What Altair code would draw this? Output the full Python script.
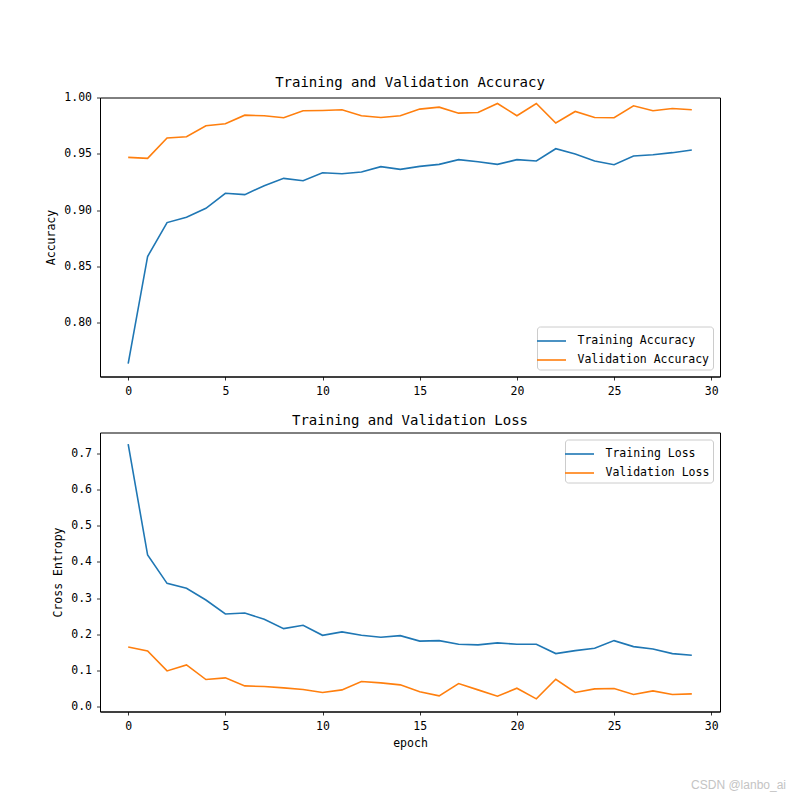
import altair as alt
import pandas as pd

epochs = list(range(30))

train_acc = [0.7637, 0.8588, 0.8889, 0.8936, 0.9016, 0.9149, 0.9137, 0.9217, 0.9282, 0.9261,
             0.9332, 0.9323, 0.9338, 0.9386, 0.9362, 0.9388, 0.9406, 0.9448, 0.9430, 0.9406,
             0.9448, 0.9436, 0.9545, 0.9498, 0.9436, 0.9403, 0.9480, 0.9492, 0.9510, 0.9533]
val_acc = [0.9468, 0.9459, 0.9640, 0.9651, 0.9749, 0.9767, 0.9843, 0.9838, 0.9820, 0.9882,
           0.9885, 0.9891, 0.9838, 0.9823, 0.9838, 0.9897, 0.9914, 0.9861, 0.9867, 0.9947,
           0.9838, 0.9947, 0.9773, 0.9876, 0.9823, 0.9820, 0.9926, 0.9882, 0.9902, 0.9891]
train_loss = [0.7256, 0.4190, 0.3407, 0.3269, 0.2947, 0.2560, 0.2587, 0.2413, 0.2155, 0.2247,
              0.1970, 0.2063, 0.1970, 0.1915, 0.1961, 0.1810, 0.1823, 0.1722, 0.1704, 0.1759,
              0.1722, 0.1722, 0.1464, 0.1547, 0.1611, 0.1823, 0.1657, 0.1593, 0.1464, 0.1418]
val_loss = [0.1648, 0.1538, 0.0985, 0.1151, 0.0746, 0.0792, 0.0571, 0.0552, 0.0516, 0.0470,
            0.0387, 0.0460, 0.0691, 0.0654, 0.0599, 0.0410, 0.0295, 0.0635, 0.0460, 0.0285,
            0.0506, 0.0212, 0.0755, 0.0387, 0.0488, 0.0497, 0.0331, 0.0433, 0.0331, 0.0350]

acc_series = ["Training Accuracy", "Validation Accuracy"]
loss_series = ["Training Loss", "Validation Loss"]
colors = ["#1f77b4", "#ff7f0e"]
x_ticks = [0, 5, 10, 15, 20, 25, 30]
acc_ticks = [0.80, 0.85, 0.90, 0.95, 1.00]
loss_ticks = [0.0, 0.1, 0.2, 0.3, 0.4, 0.5, 0.6, 0.7]

FONT = "DejaVu Sans Mono"
LBL = 11.5

acc_df = pd.DataFrame({
    "epoch": epochs * 2,
    "value": train_acc + val_acc,
    "series": [acc_series[0]] * 30 + [acc_series[1]] * 30,
})
loss_df = pd.DataFrame({
    "epoch": epochs * 2,
    "value": train_loss + val_loss,
    "series": [loss_series[0]] * 30 + [loss_series[1]] * 30,
})


def legend(orient):
    return alt.Legend(
        title=None, orient=orient, offset=7, fillColor="white", strokeColor="#cccccc",
        cornerRadius=3, padding=3.5, labelFont=FONT, labelFontSize=LBL, labelColor="black",
        symbolType="M-1.45,0H1.45", symbolStrokeWidth=1.6, symbolSize=400, labelOffset=15,
        rowPadding=2, labelLimit=300,
    )


def panel(df, series, title, title_offset, ytitle, ydomain, yticks, yfmt, xtitle,
          legend_orient, extent):
    return alt.Chart(
        df,
        title=alt.TitleParams(title, font=FONT, fontSize=14, fontWeight="normal",
                              color="black", offset=title_offset),
    ).mark_line(strokeWidth=1.6).encode(
        x=alt.X("epoch:Q",
                scale=alt.Scale(domain=[-1.45, 30.45], nice=False, zero=False),
                axis=alt.Axis(values=x_ticks, format="d", title=xtitle, titlePadding=5.5)),
        y=alt.Y("value:Q",
                scale=alt.Scale(domain=ydomain, nice=False, zero=False),
                axis=alt.Axis(values=yticks, format=yfmt, title=ytitle,
                              minExtent=extent, maxExtent=extent, titlePadding=6)),
        color=alt.Color("series:N",
                        scale=alt.Scale(domain=series, range=colors),
                        legend=legend(legend_orient)),
    ).properties(width=620, height=279)


top = panel(acc_df, acc_series, "Training and Validation Accuracy", 2, "Accuracy",
            [0.7522, 1.0], acc_ticks, ".2f", None, "bottom-right", 38)
bottom = panel(loss_df, loss_series, "Training and Validation Loss", 5, "Cross Entropy",
               [-0.0138, 0.758], loss_ticks, ".1f", "epoch", "top-right", 31)

chart = alt.vconcat(top, bottom, spacing=15).resolve_scale(
    color="independent"
).resolve_legend(color="independent").properties(
    padding={"left": 36, "top": 66.5, "right": 0, "bottom": 0},
    background="white",
    title=alt.TitleParams("CSDN @lanbo_ai", orient="bottom", anchor="end",
                          font="Liberation Sans", fontSize=12, fontWeight="normal",
                          color="#c4c4c4", offset=31, dx=65.5),
).configure_view(
    stroke="black", strokeWidth=1
).configure_axis(
    grid=False, domain=True, domainColor="black", domainWidth=1,
    ticks=True, tickColor="black", tickSize=3.5, tickWidth=0.8,
    labelFont=FONT, labelFontSize=LBL, labelColor="black", labelPadding=5,
    labelFlush=False, labelOverlap=False,
    titleFont=FONT, titleFontSize=LBL, titleFontWeight="normal", titleColor="black",
)

chart.save("out.html", embed_options={"renderer": "svg", "actions": False})
